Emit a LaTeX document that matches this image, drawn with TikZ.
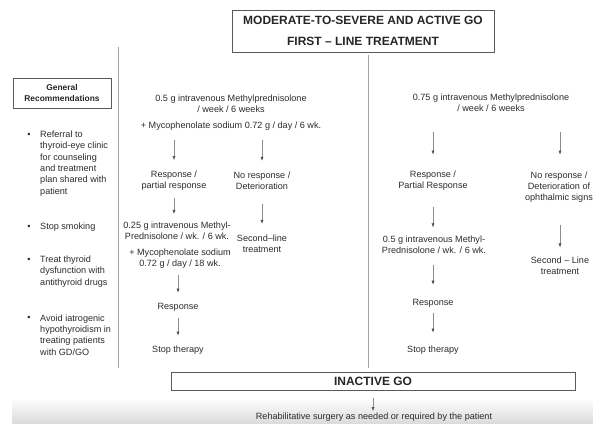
\documentclass[tikz,border=0pt]{standalone}
\usepackage{fontspec}
\setmainfont{Liberation Sans}
\usepackage{xcolor}
\usetikzlibrary{arrows.meta, positioning, calc}
\definecolor{ink}{HTML}{2B2B2B}
\definecolor{rule}{HTML}{8C8C8C}
\definecolor{edge}{HTML}{5A5A5A}

\begin{document}
\begin{tikzpicture}[
    x=1pt, y=-1pt,
    font=\fontsize{9.1}{11}\selectfont,
    txt/.style={inner sep=0pt, align=center, text=ink},
    item/.style={inner sep=0pt, align=left, anchor=west, text=ink,
                 font=\fontsize{9.1}{11.4}\selectfont},
    dot/.style={inner sep=0pt, text=ink},
    kotak/.style={draw=edge, line width=0.6pt, inner sep=0pt, align=center,
                  text=black!85, font=\fontsize{12}{21}\selectfont\bfseries},
    arr/.style={draw=rule, line width=0.5pt,
                -{Latex[length=4pt, width=3pt, color=black!70]}},
    garis/.style={draw=rule!80, line width=0.6pt}
  ]
  \useasboundingbox (0,0) rectangle (593,423);
  \clip (0,0) rectangle (593,423);
  \shade[top color=white, bottom color=black!14] (12,398) rectangle (593,423);

  % headers and dividers
  \node[kotak, minimum width=262pt, minimum height=42pt] (title) at (363,31)
    {MODERATE-TO-SEVERE AND ACTIVE GO\\FIRST -- LINE TREATMENT};
  \node[kotak, font=\fontsize{8.4}{11}\selectfont\bfseries,
        minimum width=98pt, minimum height=30pt] (genrec) at (62,93)
    {General\\Recommendations};
  \node[kotak, minimum width=404pt, minimum height=18pt] (inactive) at (373,381)
    {INACTIVE GO};
  \draw[garis] (118,47) -- (118,368);
  \draw[garis] (368,55) -- (368,368);

  % general recommendations
  \node[dot] (d1) at (29,135) {•};
  \node[item] (rec1) at (40,163.5)
    {Referral to\\thyroid-eye clinic\\for counseling\\and treatment\\plan shared with\\patient};
  \node[dot] (d2) at (29,227) {•};
  \node[item] (rec2) at (40,227) {Stop smoking};
  \node[dot] (d3) at (29,260) {•};
  \node[item] (rec3) at (40,271.5) {Treat thyroid\\dysfunction with\\antithyroid drugs};
  \node[dot] (d4) at (29,318) {•};
  \node[item] (rec4) at (40,335) {Avoid iatrogenic\\hypothyroidism in\\treating patients\\with GD/GO};

  % left scheme
  \node[txt] (mp05)   at (231,103.5) {0.5 g intravenous Methylprednisolone\\/ week / 6 weeks};
  \node[txt] (myco6)  at (231,126)   {+ Mycophenolate sodium 0.72 g / day / 6 wk.};
  \node[txt] (resp1)  at (174,181)   {Response /\\partial response};
  \node[txt] (mp025)  at (177,231)   {0.25 g intravenous Methyl-\\Prednisolone / wk. / 6 wk.};
  \node[txt] (myco18) at (180,259)   {+ Mycophenolate sodium\\0.72 g / day / 18 wk.};
  \node[txt] (resp2)  at (178,307)   {Response};
  \node[txt] (stop1)  at (178,350)   {Stop therapy};
  \node[txt] (nores1) at (262,181)   {No response /\\Deterioration};
  \node[txt] (sec1)   at (262,244)   {Second--line\\treatment};

  % right scheme
  \node[txt] (mp075)  at (491,103)   {0.75 g intravenous Methylprednisolone\\/ week / 6 weeks};
  \node[txt] (resp3)  at (433,180.5) {Response /\\Partial Response};
  \node[txt] (mp05b)  at (434,244.5) {0.5 g intravenous Methyl-\\Prednisolone / wk. / 6 wk.};
  \node[txt] (resp4)  at (433,303)   {Response};
  \node[txt] (stop2)  at (433,350)   {Stop therapy};
  \node[txt] (nores2) at (559,187)   {No response /\\Deterioration of\\ophthalmic signs};
  \node[txt] (sec2)   at (560,265.5) {Second -- Line\\treatment};

  \node[txt] (rehab)  at (374,417.5) {Rehabilitative surgery as needed or required by the patient};

  % arrows
  \draw[arr, shorten <=10pt, shorten >=11pt] (myco6.south -| resp1.north) -- (resp1.north);
  \draw[arr, shorten <=7pt,  shorten >=8pt]  (resp1.south) -- (resp1.south |- mp025.north);
  \draw[arr, shorten <=6pt,  shorten >=10pt] (myco18.south -| resp2.north) -- (resp2.north);
  \draw[arr, shorten <=7pt,  shorten >=10pt] (resp2.south) -- (stop1.north);
  \draw[arr, shorten <=10pt, shorten >=11pt] (myco6.south -| nores1.north) -- (nores1.north);
  \draw[arr, shorten <=14pt, shorten >=11pt] (nores1.south) -- (sec1.north);
  \draw[arr, shorten <=20pt, shorten >=16pt] (mp075.south -| resp3.north) -- (resp3.north);
  \draw[arr, shorten <=17pt, shorten >=8pt]  (resp3.south) -- (resp3.south |- mp05b.north);
  \draw[arr, shorten <=11pt, shorten >=14pt] (mp05b.south -| resp4.north) -- (resp4.north);
  \draw[arr, shorten <=6pt,  shorten >=13pt] (resp4.south) -- (stop2.north);
  \draw[arr, shorten <=20pt, shorten >=17pt] (mp075.south -| sec2.north) -- (nores2.north -| sec2.north);
  \draw[arr, shorten <=23pt, shorten >=9pt]  (nores2.south -| sec2.north) -- (sec2.north);
  \draw[arr, shorten <=8pt,  shorten >=2pt]  (inactive.south) -- (inactive.south |- rehab.north);
\end{tikzpicture}
\end{document}
